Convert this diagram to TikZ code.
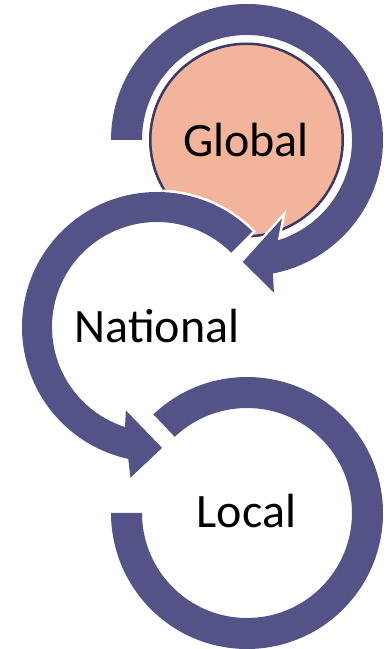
\documentclass[tikz,border=0pt]{standalone}
\usepackage{fontspec}
\setmainfont{Carlito}
\usetikzlibrary{calc}
\definecolor{ringc}{RGB}{83,83,135}
\definecolor{salmonc}{RGB}{242,180,154}
\definecolor{edgec}{RGB}{58,57,102}
\begin{document}
\begin{tikzpicture}[x=1pt,y=1pt,
  arrowshape/.style={fill=ringc,preaction={draw=white,line width=5pt,line join=miter}},
  lbl/.style={font=\fontsize{48}{56}\selectfont,anchor=base,inner sep=0pt,text=black}]
\useasboundingbox (0,0) rectangle (387,649);
\coordinate (G) at (247,509);
\coordinate (N) at (157,322);
\coordinate (L) at (247,136);
% Global circle
\node[circle,draw=edgec,line width=2.5pt,fill=salmonc,minimum size=192.5pt,inner sep=0pt] (gc) at (246.5,509) {};
% Global ring
\path[arrowshape] ($(G)+(180:136)$) arc[start angle=180,end angle=-79,radius=136]
  -- ($(G)+(-80:155)$) -- ($(G)+(-92:122)$) -- ($(G)+(-66:86)$) -- ($(G)+(-73:105)$)
  arc[start angle=-73,end angle=180,radius=105] -- cycle;
% National ring
\path[arrowshape] ($(N)+(45:135)$) arc[start angle=45,end angle=257.7,radius=135]
  -- ($(N)+(260:153)$) -- ($(N)+(272.4:121)$) -- ($(N)+(249.5:89)$) -- ($(N)+(252.3:105)$)
  arc[start angle=252.3,end angle=45,radius=105] -- cycle;
% Local ring
\path[arrowshape] ($(L)+(133.5:136)$) arc[start angle=133.5,end angle=-180,radius=136]
  -- ($(L)+(180:105)$) arc[start angle=-180,end angle=133.5,radius=105] -- cycle;
% labels
\node[lbl] (tg) at (246,492) {Global};
\node[lbl] (tn) at (157,306) {National};
\node[lbl] (tl) at (246.5,121) {Local};
\end{tikzpicture}
\end{document}
